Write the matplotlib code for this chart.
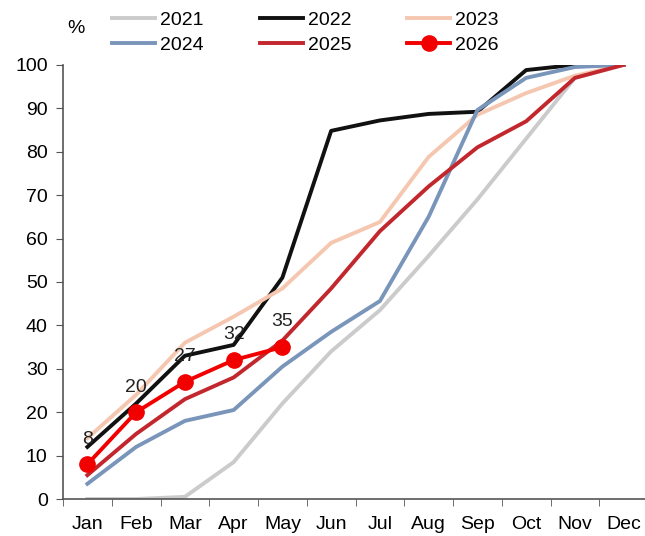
import matplotlib.pyplot as plt

plt.rcParams['font.family'] = ['Liberation Sans', 'DejaVu Sans']

# Cumulative share of the year's total, by month
months = ['Jan', 'Feb', 'Mar', 'Apr', 'May', 'Jun', 'Jul', 'Aug', 'Sep', 'Oct', 'Nov', 'Dec']
y2021 = [0, 0, 0.5, 8.5, 22, 34, 43.5, 56, 69, 83, 97, 100]
y2022 = [12, 22, 33, 35.5, 51, 84.8, 87.2, 88.7, 89.2, 98.8, 100, 100]
y2023 = [14, 24, 36, 42, 48.5, 59, 63.8, 78.8, 88.5, 93.5, 97.5, 100]
y2024 = [3.5, 12, 18, 20.5, 30.5, 38.5, 45.6, 65, 89.6, 97, 99.5, 100]
y2025 = [5.5, 15, 23, 28, 36.5, 48.5, 61.7, 72, 81, 87, 97, 100]
y2026 = [8, 20, 27, 32, 35]

series = [
    ('2021', y2021, '#cbcbcb'),
    ('2022', y2022, '#111111'),
    ('2023', y2023, '#f6c7b0'),
    ('2024', y2024, '#7a95ba'),
    ('2025', y2025, '#c1272d'),
]

fig = plt.figure(figsize=(6.45, 5.36), dpi=100)
ax = fig.add_axes([0.0977, 0.069, 0.907, 0.81])

x = list(range(len(months)))
lines = {}
for name, vals, col in series:
    lines[name], = ax.plot(x, vals, color=col, lw=2.8, label=name)
lines['2026'], = ax.plot(x[:len(y2026)], y2026, color='#f20000', lw=2.8,
                         marker='o', ms=11, label='2026')

for i, v in enumerate(y2026):
    ax.annotate(f'{v:g}', (i, v), xytext=(0, 12), textcoords='offset points',
                ha='center', va='bottom', fontsize=14, color='#222222')

ax.set_xlim(-0.5, 11.5)
ax.set_ylim(0, 100)
ax.set_yticks(range(0, 101, 10))
ax.set_xticks(x)
ax.set_xticklabels(months)
ax.set_xticks([i - 0.5 for i in range(13)], minor=True)
ax.tick_params(axis='x', which='major', length=0, pad=12, labelsize=14)
ax.tick_params(axis='x', which='minor', length=5, color='#555555')
ax.tick_params(axis='y', length=5, pad=6, color='#555555', labelsize=14)
for s in ['top', 'right']:
    ax.spines[s].set_visible(False)
for s in ['left', 'bottom']:
    ax.spines[s].set_color('#555555')
    ax.spines[s].set_linewidth(1.2)

fig.text(0.118, 0.947, '%', fontsize=14, ha='center', va='center')

# row-major legend: 2021 2022 2023 / 2024 2025 2026
order = ['2021', '2024', '2022', '2025', '2023', '2026']
fig.legend([lines[k] for k in order], order, loc='upper left',
           bbox_to_anchor=(0.147, 1.012), ncol=3, frameon=False, fontsize=14,
           handlelength=2.2, handletextpad=0.25, columnspacing=2.9,
           labelspacing=0.38)

fig.savefig('out.png', dpi=100)
